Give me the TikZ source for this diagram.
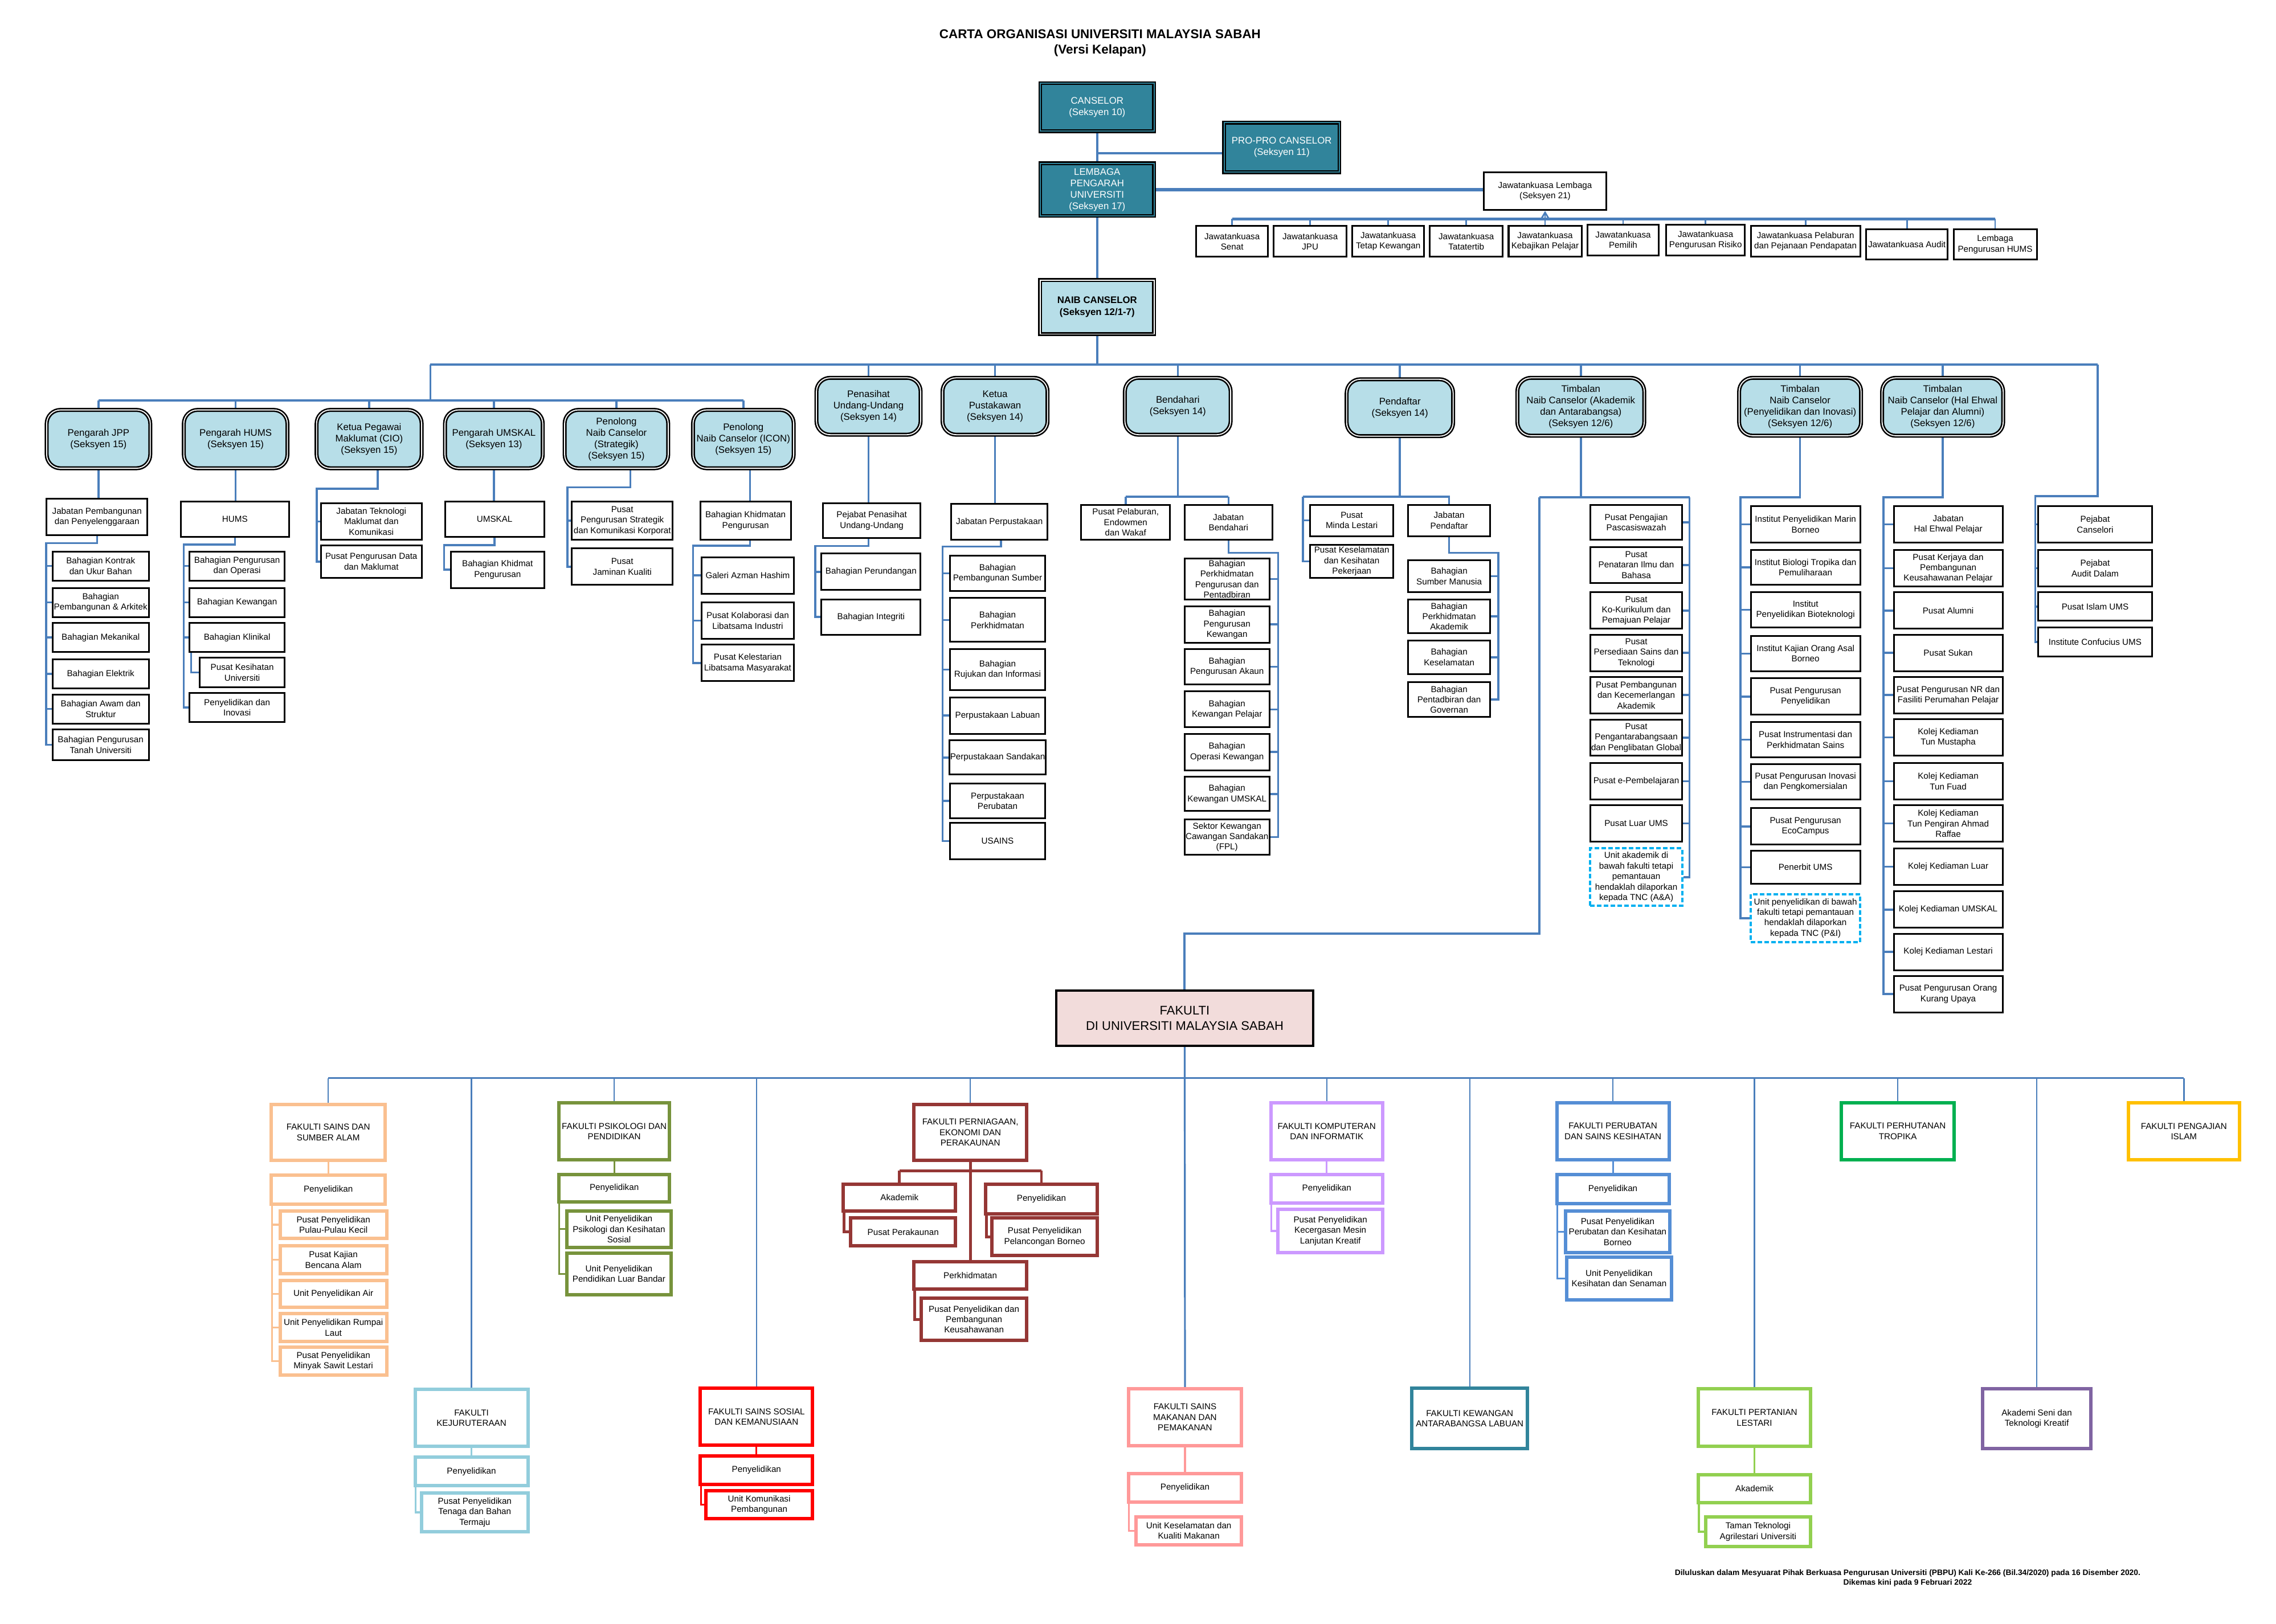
\documentclass[tikz,border=0pt]{standalone}
\usepackage{fontspec}
\setmainfont{Liberation Sans}
\usetikzlibrary{arrows.meta}
\pgfdeclarelayer{bg}
\pgfsetlayers{bg,main}
\definecolor{lineblue}{HTML}{4A7EBB}
\definecolor{tealbox}{HTML}{31849B}
\definecolor{lblue}{HTML}{B7DEE8}
\definecolor{pinkbg}{HTML}{F2DCDB}
\definecolor{dashcyan}{HTML}{00B0F0}
\definecolor{cfssa}{HTML}{FAC090}
\definecolor{cfpp}{HTML}{77933C}
\definecolor{cfpep}{HTML}{953735}
\definecolor{cfk}{HTML}{92CDDC}
\definecolor{cfssk}{HTML}{FF0000}
\definecolor{cfsmp}{HTML}{FF9999}
\definecolor{cfki}{HTML}{CC99FF}
\definecolor{cfpsk}{HTML}{558ED5}
\definecolor{cfkal}{HTML}{31849B}
\definecolor{cfpl}{HTML}{92D050}
\definecolor{cfpt}{HTML}{00B050}
\definecolor{castif}{HTML}{8064A2}
\definecolor{cfpi}{HTML}{FFC000}

\newcommand{\mybox}[7][]{%
  \pgfmathsetmacro{\mbcx}{(#3+#5)/2}%
  \pgfmathsetmacro{\mbcy}{(#4+#6)/2}%
  \pgfmathsetmacro{\mbw}{(#5-#3)*0.64}%
  \pgfmathsetmacro{\mbh}{(#6-#4)*0.64}%
  \node[#1, minimum width=\mbw pt, minimum height=\mbh pt] (#2) at (\mbcx,\mbcy) {#7};%
}

\tikzset{
  txt/.style={font=\fontsize{3.8}{4.6}\selectfont, align=center, inner sep=0.3pt},
  wb/.style={txt, draw=black, fill=white, line width=0.75pt},
  db/.style={txt, draw=dashcyan, dash pattern=on 2pt off 1pt, line width=1pt, fill=white},
  rb/.style={draw=black, line width=0.65pt, double=white, double distance=0.45pt, fill=lblue, rounded corners=6pt, align=center, inner sep=0.3pt, font=\fontsize{4.2}{5}\selectfont},
  tb/.style={draw=black, line width=0.6pt, double=tealbox, double distance=0.5pt, fill=tealbox, text=white, align=center, inner sep=0.3pt, font=\fontsize{4.2}{5}\selectfont},
  ncbox/.style={draw=black, line width=0.65pt, double=white, double distance=0.45pt, fill=lblue, align=center, inner sep=0.3pt, font=\bfseries\fontsize{4.2}{5.2}\selectfont},
  fb/.style={txt, draw=#1, line width=1.5pt, fill=white},
  conn/.style={draw=lineblue, line width=0.9pt},
  bus/.style={draw=lineblue, line width=1.3pt},
  fconn/.style={draw=lineblue, line width=0.6pt},
  fsub/.style={draw=#1, line width=0.8pt},
}

\begin{document}
\begin{tikzpicture}[x=0.64pt,y=-0.64pt]
\useasboundingbox (0,0) rectangle (1560,1113);

% ---------- title ----------
\node[font=\bfseries\fontsize{5.6}{6.9}\selectfont, align=center] (title) at (754,29.5) {CARTA ORGANISASI UNIVERSITI MALAYSIA SABAH\\(Versi Kelapan)};

% ---------- top ----------
\mybox[tb]{cans}{713}{57}{791}{90}{CANSELOR\\(Seksyen 10)}
\mybox[tb]{propro}{839}{84}{918}{118}{PRO-PRO CANSELOR\\(Seksyen 11)}
\mybox[tb]{lpu}{713}{112}{791}{148}{LEMBAGA\\PENGARAH\\UNIVERSITI\\(Seksyen 17)}
\mybox[wb]{jl}{1017}{118}{1101}{144}{Jawatankuasa Lembaga\\(Seksyen 21)}
\mybox[wb]{k1}{820}{155}{869}{176}{Jawatankuasa\\Senat}
\mybox[wb]{k2}{873}{155}{923}{176}{Jawatankuasa\\JPU}
\mybox[wb]{k3}{927}{155}{976}{176}{Jawatankuasa\\Tetap Kewangan}
\mybox[wb]{k4}{980}{155}{1030}{176}{Jawatankuasa\\Tatatertib}
\mybox[wb]{k5}{1034}{155}{1084}{176}{Jawatankuasa\\Kebajikan Pelajar}
\mybox[wb]{k6}{1088}{154}{1137}{175}{Jawatankuasa\\Pemilih}
\mybox[wb]{k7}{1142}{154}{1196}{175}{Jawatankuasa\\Pengurusan Risiko}
\mybox[wb]{k8}{1200}{155}{1275}{176}{Jawatankuasa Pelaburan\\dan Pejanaan Pendapatan}
\mybox[wb]{k9}{1279}{157}{1335}{178}{Jawatankuasa Audit}
\mybox[wb]{k10}{1339}{157}{1396}{178}{Lembaga\\Pengurusan HUMS}
\mybox[ncbox]{naib}{713}{192}{791}{229}{NAIB CANSELOR\\(Seksyen 12/1-7)}

% ---------- second level ----------
\mybox[rb]{jpp}{32}{281}{103}{321}{Pengarah JPP\\(Seksyen 15)}
\mybox[rb]{hums}{126}{281}{197}{321}{Pengarah HUMS\\(Seksyen 15)}
\mybox[rb]{cio}{217}{281}{289}{321}{Ketua Pegawai\\Maklumat (CIO)\\(Seksyen 15)}
\mybox[rb]{umskal}{305}{281}{372}{321}{Pengarah UMSKAL\\(Seksyen 13)}
\mybox[rb]{strat}{387}{281}{458}{321}{Penolong\\Naib Canselor\\(Strategik)\\(Seksyen 15)}
\mybox[rb]{icon}{475}{281}{544}{321}{Penolong\\Naib Canselor (ICON)\\(Seksyen 15)}
\mybox[rb]{pen}{559.6}{259}{631}{298}{Penasihat\\Undang-Undang\\(Seksyen 14)}
\mybox[rb]{pust}{646}{259}{718}{298}{Ketua\\Pustakawan\\(Seksyen 14)}
\mybox[rb]{bend}{771}{259}{843.5}{298}{Bendahari\\(Seksyen 14)}
\mybox[rb]{pend}{923}{260}{996}{299}{Pendaftar\\(Seksyen 14)}
\mybox[rb]{tnca}{1040}{259}{1127}{298.7}{Timbalan\\Naib Canselor (Akademik\\dan Antarabangsa)\\(Seksyen 12/6)}
\mybox[rb]{tncp}{1192}{259}{1275.6}{298.7}{Timbalan\\Naib Canselor\\(Penyelidikan dan Inovasi)\\(Seksyen 12/6)}
\mybox[rb]{tnch}{1290}{259}{1373}{298.7}{Timbalan\\Naib Canselor (Hal Ehwal\\Pelajar dan Alumni)\\(Seksyen 12/6)}

% ---------- JPP ----------
\mybox[wb]{jab}{32}{342}{101}{367}{Jabatan Pembangunan\\dan Penyelenggaraan}
\mybox[wb]{j1}{36}{378}{102}{398}{Bahagian Kontrak\\dan Ukur Bahan}
\mybox[wb]{j2}{36}{403}{102}{423}{Bahagian\\Pembangunan \& Arkitek}
\mybox[wb]{j3}{36}{427}{102}{447}{Bahagian Mekanikal}
\mybox[wb]{j4}{36}{452}{102}{472}{Bahagian Elektrik}
\mybox[wb]{j5}{36}{476}{102}{496}{Bahagian Awam dan\\Struktur}
\mybox[wb]{j6}{36}{500}{102}{521}{Bahagian Pengurusan\\Tanah Universiti}
% ---------- HUMS ----------
\mybox[wb]{humsb}{124}{344}{198}{368}{HUMS}
\mybox[wb]{h1}{130}{378}{195}{398}{Bahagian Pengurusan\\dan Operasi}
\mybox[wb]{h2}{130}{403}{195}{423}{Bahagian Kewangan}
\mybox[wb]{h3}{130}{427}{195}{447}{Bahagian Klinikal}
\mybox[wb]{h4}{137}{451}{195}{471}{Pusat Kesihatan\\Universiti}
\mybox[wb]{h5}{130}{475}{195}{495}{Penyelidikan dan\\Inovasi}
% ---------- CIO ----------
\mybox[wb]{jtmk}{220}{345}{289}{370}{Jabatan Teknologi\\Maklumat dan\\Komunikasi}
\mybox[wb]{ppdm}{220}{374}{289}{396}{Pusat Pengurusan Data\\dan Maklumat}
% ---------- UMSKAL ----------
\mybox[wb]{umsb}{305}{344}{373}{368}{UMSKAL}
\mybox[wb]{bkp}{309}{378}{373}{403}{Bahagian Khidmat\\Pengurusan}
% ---------- Strategik ----------
\mybox[wb]{psk}{392}{344}{461}{370}{Pusat\\Pengurusan Strategik\\dan Komunikasi Korporat}
\mybox[wb]{pjk}{392}{376}{461}{401}{Pusat\\Jaminan Kualiti}
% ---------- ICON ----------
\mybox[wb]{bkp2}{480}{344}{542}{370}{Bahagian Khidmatan\\Pengurusan}
\mybox[wb]{i1}{481}{382}{544}{407}{Galeri Azman Hashim}
\mybox[wb]{i2}{481}{413}{544}{438}{Pusat Kolaborasi dan\\Libatsama Industri}
\mybox[wb]{i3}{481}{442}{544}{467}{Pusat Kelestarian\\Libatsama Masyarakat}
% ---------- Penasihat ----------
\mybox[wb]{ppu}{564}{345}{631}{369}{Pejabat Penasihat\\Undang-Undang}
\mybox[wb]{bper}{563}{379.5}{631}{404.5}{Bahagian Perundangan}
\mybox[wb]{bint}{563}{411}{631}{435}{Bahagian Integriti}
% ---------- Pustakawan ----------
\mybox[wb]{jp}{652}{345.5}{718}{370}{Jabatan Perpustakaan}
\mybox[wb]{p1}{651}{381}{716.5}{405}{Bahagian\\Pembangunan Sumber}
\mybox[wb]{p2}{651}{410}{716.5}{440}{Bahagian\\Perkhidmatan}
\mybox[wb]{p3}{651}{445}{716.5}{473}{Bahagian\\Rujukan dan Informasi}
\mybox[wb]{p4}{651}{478}{716.5}{503}{Perpustakaan Labuan}
\mybox[wb]{p5}{651}{507.6}{716.5}{531}{Perpustakaan Sandakan}
\mybox[wb]{p6}{651}{537}{716.5}{561}{Perpustakaan\\Perubatan}
\mybox[wb]{p7}{651}{564}{716.5}{589}{USAINS}
% ---------- Bendahari ----------
\mybox[wb]{ppew}{741}{346}{802}{370}{Pusat Pelaburan,\\Endowmen\\dan Wakaf}
\mybox[wb]{jb}{812}{346}{872}{370}{Jabatan\\Bendahari}
\mybox[wb]{b1}{812}{383}{870}{411}{Bahagian\\Perkhidmatan\\Pengurusan dan\\Pentadbiran}
\mybox[wb]{b2}{812}{415.5}{870}{440.5}{Bahagian\\Pengurusan\\Kewangan}
\mybox[wb]{b3}{812}{445}{870}{469}{Bahagian\\Pengurusan Akaun}
\mybox[wb]{b4}{812}{474}{870}{498.6}{Bahagian\\Kewangan Pelajar}
\mybox[wb]{b5}{812}{503}{870}{528}{Bahagian\\Operasi Kewangan}
\mybox[wb]{b6}{812}{532.6}{870}{556}{Bahagian\\Kewangan UMSKAL}
\mybox[wb]{b7}{812}{561.7}{870}{586}{Sektor Kewangan\\Cawangan Sandakan\\(FPL)}
% ---------- Pendaftar ----------
\mybox[wb]{pml}{898}{346}{955}{367.5}{Pusat\\Minda Lestari}
\mybox[wb]{pkkp}{898}{373.5}{955}{396}{Pusat Keselamatan\\dan Kesihatan\\Pekerjaan}
\mybox[wb]{jpd}{965}{346}{1021.5}{367.5}{Jabatan\\Pendaftar}
\mybox[wb]{d1}{965}{384}{1021.5}{406}{Bahagian\\Sumber Manusia}
\mybox[wb]{d2}{965}{411}{1021.5}{434}{Bahagian\\Perkhidmatan\\Akademik}
\mybox[wb]{d3}{965}{439}{1021.5}{462}{Bahagian\\Keselamatan}
\mybox[wb]{d4}{965}{467.5}{1021.5}{491.6}{Bahagian\\Pentadbiran dan\\Governan}
% ---------- TNC Akademik ----------
\mybox[wb]{a1}{1090}{346}{1153}{370}{Pusat Pengajian\\Pascasiswazah}
\mybox[wb]{a2}{1090}{375}{1153}{399.5}{Pusat\\Penataran Ilmu dan\\Bahasa}
\mybox[wb]{a3}{1090}{406}{1153}{431}{Pusat\\Ko-Kurikulum dan\\Pemajuan Pelajar}
\mybox[wb]{a4}{1090}{435}{1153}{460}{Pusat\\Persediaan Sains dan\\Teknologi}
\mybox[wb]{a5}{1090}{464}{1153}{489}{Pusat Pembangunan\\dan Kecemerlangan\\Akademik}
\mybox[wb]{a6}{1090}{493.5}{1153}{518}{Pusat\\Pengantarabangsaan\\dan Penglibatan Global}
\mybox[wb]{a7}{1090}{523}{1153}{548}{Pusat e-Pembelajaran}
\mybox[wb]{a8}{1090}{552}{1153}{577}{Pusat Luar UMS}
\mybox[db]{a9}{1090}{581.5}{1153}{621}{Unit akademik di\\bawah fakulti tetapi\\pemantauan\\hendaklah dilaporkan\\kepada TNC (A\&A)}
% ---------- TNC Penyelidikan ----------
\mybox[wb]{r1}{1200}{347}{1275}{372}{Institut Penyelidikan Marin\\Borneo}
\mybox[wb]{r2}{1200}{377}{1275}{401}{Institut Biologi Tropika dan\\Pemuliharaan}
\mybox[wb]{r3}{1200}{406}{1275}{430}{Institut\\Penyelidikan Bioteknologi}
\mybox[wb]{r4}{1200}{436}{1275}{460}{Institut Kajian Orang Asal\\Borneo}
\mybox[wb]{r5}{1200}{465}{1275}{490}{Pusat Pengurusan\\Penyelidikan}
\mybox[wb]{r6}{1200}{495}{1275}{519}{Pusat Instrumentasi dan\\Perkhidmatan Sains}
\mybox[wb]{r7}{1200}{524}{1275}{548}{Pusat Pengurusan Inovasi\\dan Pengkomersialan}
\mybox[wb]{r8}{1200}{554}{1275}{579}{Pusat Pengurusan\\EcoCampus}
\mybox[wb]{r9}{1200}{583}{1275}{606}{Penerbit UMS}
\mybox[db]{r10}{1200}{613}{1275}{645.7}{Unit penyelidikan di bawah\\fakulti tetapi pemantauan\\hendaklah dilaporkan\\kepada TNC (P\&I)}
% ---------- TNC HEP ----------
\mybox[wb]{s1}{1298}{347}{1372.6}{372}{Jabatan\\Hal Ehwal Pelajar}
\mybox[wb]{s2}{1298}{377}{1372.6}{402}{Pusat Kerjaya dan\\Pembangunan\\Keusahawanan Pelajar}
\mybox[wb]{s3}{1298}{406}{1372.6}{431}{Pusat Alumni}
\mybox[wb]{s4}{1298}{435}{1372.6}{460}{Pusat Sukan}
\mybox[wb]{s5}{1298}{464}{1372.6}{489}{Pusat Pengurusan NR dan\\Fasiliti Perumahan Pelajar}
\mybox[wb]{s6}{1298}{493}{1372.6}{518}{Kolej Kediaman\\Tun Mustapha}
\mybox[wb]{s7}{1298}{523}{1372.6}{548}{Kolej Kediaman\\Tun Fuad}
\mybox[wb]{s8}{1298}{552}{1372.6}{577}{Kolej Kediaman\\Tun Pengiran Ahmad\\Raffae}
\mybox[wb]{s9}{1298}{581.5}{1372.6}{606.6}{Kolej Kediaman Luar}
\mybox[wb]{s10}{1298}{611}{1372.6}{636}{Kolej Kediaman UMSKAL}
\mybox[wb]{s11}{1298}{640}{1372.6}{665}{Kolej Kediaman Lestari}
\mybox[wb]{s12}{1298}{669}{1372.6}{694}{Pusat Pengurusan Orang\\Kurang Upaya}
% ---------- right column ----------
\mybox[wb]{x1}{1397}{347}{1475}{372}{Pejabat\\Canselori}
\mybox[wb]{x2}{1397}{377}{1475}{402}{Pejabat\\Audit Dalam}
\mybox[wb]{x3}{1397}{406}{1475}{425.6}{Pusat Islam UMS}
\mybox[wb]{x4}{1397}{430}{1475}{450}{Institute Confucius UMS}

% ---------- Fakulti ----------
\mybox[wb, fill=pinkbg, line width=0.9pt, font=\fontsize{5.5}{6.7}\selectfont]{fak}{724}{679}{900}{717}{FAKULTI\\DI UNIVERSITI MALAYSIA SABAH}

\mybox[fb=cfssa]{fssa}{186}{757}{264}{795.5}{FAKULTI SAINS DAN\\SUMBER ALAM}
\mybox[fb=cfssa]{fssap}{186}{805.7}{264}{825.4}{Penyelidikan}
\mybox[fb=cfssa]{fs1}{192}{830}{265}{849}{Pusat Penyelidikan\\Pulau-Pulau Kecil}
\mybox[fb=cfssa]{fs2}{192}{854}{265}{873}{Pusat Kajian\\Bencana Alam}
\mybox[fb=cfssa]{fs3}{192}{877.7}{265}{896}{Unit Penyelidikan Air}
\mybox[fb=cfssa]{fs4}{192}{900.6}{265}{919.6}{Unit Penyelidikan Rumpai\\Laut}
\mybox[fb=cfssa]{fs5}{192}{923.4}{265}{942.6}{Pusat Penyelidikan\\Minyak Sawit Lestari}

\mybox[fb=cfpp]{fpp}{383}{756}{459}{795}{FAKULTI PSIKOLOGI DAN\\PENDIDIKAN}
\mybox[fb=cfpp]{fppp}{383}{805}{459}{824}{Penyelidikan}
\mybox[fb=cfpp]{fp1}{388.5}{830}{460}{855}{Unit Penyelidikan\\Psikologi dan Kesihatan\\Sosial}
\mybox[fb=cfpp]{fp2}{388.5}{859}{460}{887.5}{Unit Penyelidikan\\Pendidikan Luar Bandar}

\mybox[fb=cfpep]{fpep}{626.5}{757}{703.6}{795.5}{FAKULTI PERNIAGAAN,\\EKONOMI DAN\\PERAKAUNAN}
\mybox[fb=cfpep]{fpeA}{578}{811.7}{655}{830}{Akademik}
\mybox[fb=cfpep]{fpeP}{675.6}{811.7}{752}{832}{Penyelidikan}
\mybox[fb=cfpep]{fpe1}{583}{835}{655}{854}{Pusat Perakaunan}
\mybox[fb=cfpep]{fpe2}{680}{835}{752}{860.6}{Pusat Penyelidikan\\Pelancongan Borneo}
\mybox[fb=cfpep]{fpeK}{626.5}{865}{703.6}{883.6}{Perkhidmatan}
\mybox[fb=cfpep]{fpe3}{631.6}{890}{703.6}{918.8}{Pusat Penyelidikan dan\\Pembangunan\\Keusahawanan}

\mybox[fb=cfki]{fki}{871}{756}{947.7}{795}{FAKULTI KOMPUTERAN\\DAN INFORMATIK}
\mybox[fb=cfki]{fkip}{871}{805}{947.7}{824.7}{Penyelidikan}
\mybox[fb=cfki]{fki1}{876}{829}{947.7}{858.6}{Pusat Penyelidikan\\Kecergasan Mesin\\Lanjutan Kreatif}

\mybox[fb=cfpsk]{fpsk}{1067}{756}{1144}{795}{FAKULTI PERUBATAN\\DAN SAINS KESIHATAN}
\mybox[fb=cfpsk]{fpskp}{1067}{805}{1144}{825}{Penyelidikan}
\mybox[fb=cfpsk]{fpsk1}{1073}{830}{1144.5}{858.6}{Pusat Penyelidikan\\Perubatan dan Kesihatan\\Borneo}
\mybox[fb=cfpsk]{fpsk2}{1074}{861.6}{1145.5}{891}{Unit Penyelidikan\\Kesihatan dan Senaman}

\mybox[fb=cfpt]{fpt}{1262}{756}{1339.5}{795}{FAKULTI PERHUTANAN\\TROPIKA}
\mybox[fb=cfpi]{fpi}{1458.7}{756}{1535}{795}{FAKULTI PENGAJIAN\\ISLAM}

\mybox[fb=cfk]{fk}{284.5}{952.5}{361.8}{991.4}{FAKULTI\\KEJURUTERAAN}
\mybox[fb=cfk]{fkp}{284.5}{999}{361.8}{1018.5}{Penyelidikan}
\mybox[fb=cfk]{fkc}{289}{1023.5}{361.8}{1050}{Pusat Penyelidikan\\Tenaga dan Bahan\\Termaju}

\mybox[fb=cfssk]{fssk}{480}{951.7}{557}{990.6}{FAKULTI SAINS SOSIAL\\DAN KEMANUSIAAN}
\mybox[fb=cfssk]{fsskp}{480}{998}{557}{1017.6}{Penyelidikan}
\mybox[fb=cfssk]{fssk1}{483.7}{1021.8}{557}{1041}{Unit Komunikasi\\Pembangunan}

\mybox[fb=cfsmp]{fsmp}{773.4}{952}{851}{991}{FAKULTI SAINS\\MAKANAN DAN\\PEMAKANAN}
\mybox[fb=cfsmp]{fsmpp}{773.4}{1010}{851}{1029.7}{Penyelidikan}
\mybox[fb=cfsmp]{fsmp1}{778.6}{1039.7}{851}{1059}{Unit Keselamatan dan\\Kualiti Makanan}

\mybox[fb=cfkal]{fkal}{967.7}{951.7}{1047}{993}{FAKULTI KEWANGAN\\ANTARABANGSA LABUAN}

\mybox[fb=cfpl]{fpl}{1164}{952}{1241}{991.6}{FAKULTI PERTANIAN\\LESTARI}
\mybox[fb=cfpl]{fplA}{1164}{1011}{1241}{1030}{Akademik}
\mybox[fb=cfpl]{fpl1}{1169}{1040}{1241}{1060}{Taman Teknologi\\Agrilestari Universiti}

\mybox[fb=castif]{astif}{1359}{952}{1433}{993}{Akademi Seni dan\\Teknologi Kreatif}

% ---------- footer ----------
\node[font=\bfseries\fontsize{3.45}{4.2}\selectfont, align=center] (foot) at (1307.5,1081.7) {Diluluskan dalam Mesyuarat Pihak Berkuasa Pengurusan Universiti (PBPU) Kali Ke-266 (Bil.34/2020) pada 16 Disember 2020.\\Dikemas kini pada 9 Februari 2022};

% ---------- coordinates ----------
\coordinate (pp) at (752,105);
\coordinate (kbus) at (0,150);
\coordinate (mb) at (0,250);
\coordinate (mbL) at (295,250);
\coordinate (mbR) at (1437.7,250);
\coordinate (sb) at (295,274.5);
\coordinate (jppE) at (31.6,372.3);
\coordinate (humsE) at (125.9,373.2);
\coordinate (cioX) at (258.8,0);
\coordinate (cioE) at (217,335);
\coordinate (umsE) at (304.4,373.6);
\coordinate (strX) at (432,0);
\coordinate (strE) at (389,334);
\coordinate (icX) at (514,0);
\coordinate (icE) at (475,374);
\coordinate (penE) at (558.7,374.3);
\coordinate (pusX) at (686,0);
\coordinate (pusE) at (646,374.7);
\coordinate (bendB) at (0,340.5);
\coordinate (jbE) at (876,379);
\coordinate (pdL) at (893,340.5);
\coordinate (jpdE) at (1027,379);
\coordinate (taL) at (1055,341);
\coordinate (taR) at (1158,341);
\coordinate (fakL) at (812,640);
\coordinate (tpE) at (1193,341);
\coordinate (thE) at (1291,341);
\coordinate (rcE) at (1395,340);
\coordinate (fbus) at (0,739);
\coordinate (fpeH) at (0,802.5);

% ---------- connectors ----------
\begin{pgfonlayer}{bg}
\draw[conn, line width=1pt] (cans.south) -- (lpu.north);
\draw[conn, line width=1pt] (lpu.south) -- (naib.north);
\draw[conn, line width=1pt] (pp) -- (pp -| propro.west);
\draw[bus] (lpu.east) -- (lpu.east -| jl.west);
\draw[bus] (k1.north |- kbus) -- (k10.north |- kbus);
\foreach \n in {k1,k2,k3,k4,k5,k6,k7,k8,k9,k10} \draw[conn, line width=0.7pt] (\n.north |- kbus) -- (\n.north);
\draw[conn, line width=0.7pt, -{Straight Barb[length=2.5pt,width=3pt]}] (jl.south |- kbus) -- (jl.south);

\draw[conn] (naib.south) -- (naib.south |- mb);
\draw[conn] (mbL) -- (mbR);
\draw[conn] (mbL) -- (sb);
\draw[conn] (jpp.north |- sb) -- (icon.north |- sb);
\foreach \n in {jpp,hums,cio,umskal,strat,icon} \draw[conn] (\n.north |- sb) -- (\n.north);
\foreach \n in {pen,pust,bend,pend,tnca,tncp,tnch} \draw[conn] (\n.north |- mb) -- (\n.north);

% JPP
\draw[conn] (jpp.south) -- (jpp.south |- jab.north);
\draw[conn] (jab.south) |- (jppE) |- (j6.west);
\foreach \n in {j1,j2,j3,j4,j5} \draw[conn] (jppE) |- (\n.west);
% HUMS
\draw[conn] (hums.south) -- (hums.south |- humsb.north);
\draw[conn] (humsb.south) |- (humsE) |- (h5.west);
\foreach \n in {h1,h2,h3} \draw[conn] (humsE) |- (\n.west);
\draw[conn] ([xshift=1pt]h3.south west) |- (h4.west);
% CIO
\draw[conn] (cio.south -| cioX) |- (cioE) |- (ppdm.west);
\draw[conn] (cioE) |- (jtmk.west);
% UMSKAL
\draw[conn] (umskal.south) -- (umskal.south |- umsb.north);
\draw[conn] (umsb.south) |- (umsE) |- (bkp.west);
% Strategik
\draw[conn] (strat.south -| strX) |- (strE) |- (pjk.west);
\draw[conn] (strE) |- (psk.west);
% ICON
\draw[conn] (icon.south -| icX) -- (bkp2.north -| icX);
\draw[conn] (bkp2.south -| icX) |- (icE) |- (i3.west);
\foreach \n in {i1,i2} \draw[conn] (icE) |- (\n.west);
% Penasihat
\draw[conn] (pen.south) -- (pen.south |- ppu.north);
\draw[conn] (pen.south |- ppu.south) |- (penE) |- (bint.west);
\draw[conn] (penE) |- (bper.west);
% Pustakawan
\draw[conn] (pust.south) -- (pust.south |- jp.north);
\draw[conn] (jp.south -| pusX) |- (pusE) |- (p7.west);
\foreach \n in {p1,p2,p3,p4,p5,p6} \draw[conn] (pusE) |- (\n.west);
% Bendahari
\draw[conn] (bend.south) -- (bend.south |- bendB);
\draw[conn] (ppew.north |- bendB) -- (jb.north |- bendB);
\draw[conn] (ppew.north |- bendB) -- (ppew.north);
\draw[conn] (jb.north |- bendB) -- (jb.north);
\draw[conn] (jb.south) |- (jbE) |- (b7.east);
\foreach \n in {b1,b2,b3,b4,b5,b6} \draw[conn] (jbE) |- (\n.east);
% Pendaftar
\draw[conn] (pend.south) -- (pend.south |- bendB);
\draw[conn] (pdL) -- (jpd.north |- pdL) -- (jpd.north);
\draw[conn] (pdL) |- (pkkp.west);
\draw[conn] (pdL) |- (pml.west);
\draw[conn] (jpd.south) |- (jpdE) |- (d4.east);
\foreach \n in {d1,d2,d3} \draw[conn] (jpdE) |- (\n.east);
% TNC Akademik
\draw[conn] (tnca.south) -- (tnca.south |- taL);
\draw[conn] (taL) -- (taR);
\draw[conn] (taR) |- (a9.east);
\foreach \n in {a1,a2,a3,a4,a5,a6,a7,a8} \draw[conn] (taR) |- (\n.east);
\draw[conn, line width=1pt] (taL) -- (taL |- fakL) -- (fakL) -- (fak.north);
% TNC Penyelidikan
\draw[conn] (tncp.south) |- (tpE) |- (r10.west);
\foreach \n in {r1,r2,r3,r4,r5,r6,r7,r8,r9} \draw[conn] (tpE) |- (\n.west);
% TNC HEP
\draw[conn] (tnch.south) |- (thE) |- (s12.west);
\foreach \n in {s1,s2,s3,s4,s5,s6,s7,s8,s9,s10,s11} \draw[conn] (thE) |- (\n.west);
% right column
\draw[conn] (mbR) |- (rcE) |- (x4.west);
\foreach \n in {x1,x2,x3} \draw[conn] (rcE) |- (\n.west);

% Faculty bus
\draw[conn, line width=0.8pt] (fak.south) -- (fsmp.north);
\draw[conn, line width=0.8pt] (fssa.north |- fbus) -- (fpi.north |- fbus);
\foreach \n in {fssa,fk,fpp,fssk,fpep,fki,fkal,fpsk,fpl,fpt,astif,fpi} \draw[fconn] (\n.north |- fbus) -- (\n.north);

% faculty internals
\draw[fsub=cfssa] (fssa.south) -- (fssap.north);
\foreach \n in {fs1,fs2,fs3,fs4,fs5} \draw[fsub=cfssa] ([xshift=1pt]fssap.south west) |- (\n.west);
\draw[fsub=cfpp] (fpp.south) -- (fppp.north);
\foreach \n in {fp1,fp2} \draw[fsub=cfpp] ([xshift=1pt]fppp.south west) |- (\n.west);
\draw[fsub=cfpep, line width=1.2pt] (fpep.south) -- (fpeK.north);
\draw[fsub=cfpep, line width=1.2pt] (fpeA.north |- fpeH) -- (fpeP.north |- fpeH);
\draw[fsub=cfpep, line width=1.2pt] (fpeA.north |- fpeH) -- (fpeA.north);
\draw[fsub=cfpep, line width=1.2pt] (fpeP.north |- fpeH) -- (fpeP.north);
\draw[fsub=cfpep, line width=1.2pt] ([xshift=1pt]fpeA.south west) |- (fpe1.west);
\draw[fsub=cfpep, line width=1.2pt] ([xshift=1pt]fpeP.south west) |- (fpe2.west);
\draw[fsub=cfpep, line width=1.2pt] ([xshift=1pt]fpeK.south west) |- (fpe3.west);
\draw[fsub=cfki] (fki.south) -- (fkip.north);
\draw[fsub=cfki] ([xshift=1pt]fkip.south west) |- (fki1.west);
\draw[fsub=cfpsk] (fpsk.south) -- (fpskp.north);
\foreach \n in {fpsk1,fpsk2} \draw[fsub=cfpsk] ([xshift=1pt]fpskp.south west) |- (\n.west);
\draw[fsub=cfk] (fk.south) -- (fkp.north);
\draw[fsub=cfk] ([xshift=1pt]fkp.south west) |- (fkc.west);
\draw[fsub=cfssk] (fssk.south) -- (fsskp.north);
\draw[fsub=cfssk] ([xshift=1pt]fsskp.south west) |- (fssk1.west);
\draw[fsub=cfsmp] (fsmp.south) -- (fsmpp.north);
\draw[fsub=cfsmp] ([xshift=1pt]fsmpp.south west) |- (fsmp1.west);
\draw[fsub=cfpl] (fpl.south) -- (fplA.north);
\draw[fsub=cfpl] ([xshift=1pt]fplA.south west) |- (fpl1.west);
\end{pgfonlayer}
\end{tikzpicture}
\end{document}
